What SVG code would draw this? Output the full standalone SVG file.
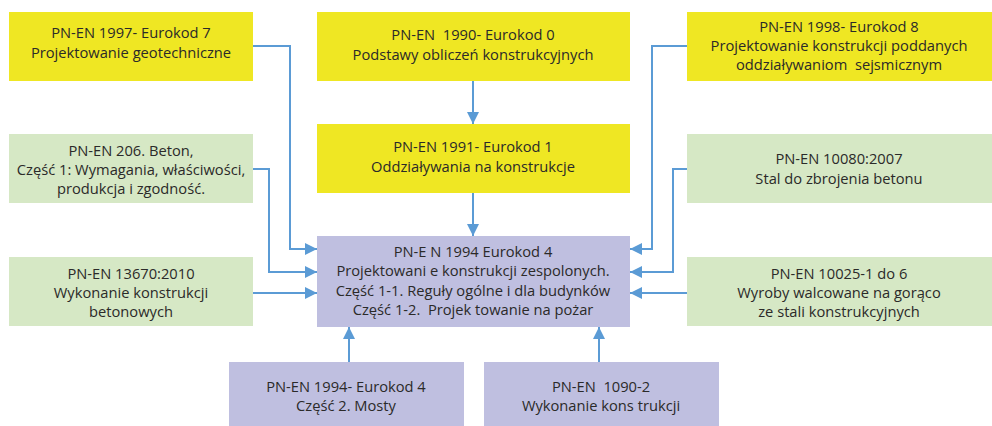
<svg xmlns="http://www.w3.org/2000/svg" width="992" height="426" viewBox="0 0 992 426">
<style>
.y{fill:#EFE723}.g{fill:#D6E8C5}.p{fill:#BFBFE0}
text{font-family:"Open Sans","Noto Sans",sans-serif;font-size:14.7px;fill:#2B2A29;text-anchor:middle;white-space:pre}
.c{fill:none;stroke:#5B9BD5;stroke-width:2}
</style>
<defs>
<marker id="a" viewBox="0 0 10 10" refX="10" refY="5" markerWidth="17" markerHeight="12" markerUnits="userSpaceOnUse" orient="auto"><path d="M0,0L10,5L0,10z" fill="#5B9BD5"/></marker>
</defs>
<rect width="992" height="426" fill="#fff"/>
<g id="connectors">
<path class="c" d="M253,46H290V249H317" marker-end="url(#a)"/>
<path class="c" d="M253,169H269V272H317" marker-end="url(#a)"/>
<path class="c" d="M253,293H317" marker-end="url(#a)"/>
<path class="c" d="M473,81V124" marker-end="url(#a)"/>
<path class="c" d="M473,193V236" marker-end="url(#a)"/>
<path class="c" d="M687,46H652V249H630" marker-end="url(#a)"/>
<path class="c" d="M687,169H673V272H630" marker-end="url(#a)"/>
<path class="c" d="M687,293H630" marker-end="url(#a)"/>
<path class="c" d="M349,362V327" marker-end="url(#a)"/>
<path class="c" d="M599,362V327" marker-end="url(#a)"/>
</g>
<g id="ec7"><rect class="y" x="9" y="12" width="244" height="69"/><text x="131" y="38">PN-EN 1997- Eurokod 7</text><text x="131" y="58">Projektowanie geotechniczne</text></g>
<g id="ec0"><rect class="y" x="317" y="12" width="313" height="69"/><text x="473" y="40">PN-EN  1990- Eurokod 0</text><text x="473" y="60">Podstawy obliczeń konstrukcyjnych</text></g>
<g id="ec8"><rect class="y" x="687" y="12" width="305" height="69"/><text x="839" y="32">PN-EN 1998- Eurokod 8</text><text x="839" y="51">Projektowanie konstrukcji poddanych</text><text x="839" y="70">oddziaływaniom  sejsmicznym</text></g>
<g id="ec1"><rect class="y" x="317" y="124" width="313" height="69"/><text x="473" y="152">PN-EN 1991- Eurokod 1</text><text x="473" y="172">Oddziaływania na konstrukcje</text></g>
<g id="en206"><rect class="g" x="9" y="134" width="244" height="69"/><text x="131" y="156">PN-EN 206. Beton,</text><text x="131" y="175">Część 1: Wymagania, właściwości,</text><text x="131" y="194">produkcja i zgodność.</text></g>
<g id="en10080"><rect class="g" x="687" y="134" width="305" height="69"/><text x="839" y="164">PN-EN 10080:2007</text><text x="839" y="184">Stal do zbrojenia betonu</text></g>
<g id="en13670"><rect class="g" x="9" y="257" width="244" height="69"/><text x="131" y="279">PN-EN 13670:2010</text><text x="131" y="298">Wykonanie konstrukcji</text><text x="131" y="317">betonowych</text></g>
<g id="en10025"><rect class="g" x="687" y="257" width="305" height="69"/><text x="839" y="279">PN-EN 10025-1 do 6</text><text x="839" y="298">Wyroby walcowane na gorąco</text><text x="839" y="317">ze stali konstrukcyjnych</text></g>
<g id="ec4"><rect class="p" x="317" y="236" width="313" height="91"/><text x="473" y="257">PN-E N 1994 Eurokod 4</text><text x="473" y="276">Projektowani e konstrukcji zespolonych.</text><text x="473" y="296">Część 1-1. Reguły ogólne i dla budynków</text><text x="473" y="315">Część 1-2.  Projek towanie na pożar</text></g>
<g id="ec4-2"><rect class="p" x="229" y="362" width="235" height="64"/><text x="346" y="392">PN-EN 1994- Eurokod 4</text><text x="346" y="411">Część 2. Mosty</text></g>
<g id="en1090"><rect class="p" x="484" y="362" width="235" height="64"/><text x="601" y="392">PN-EN  1090-2</text><text x="601" y="411">Wykonanie kons trukcji</text></g>
</svg>
